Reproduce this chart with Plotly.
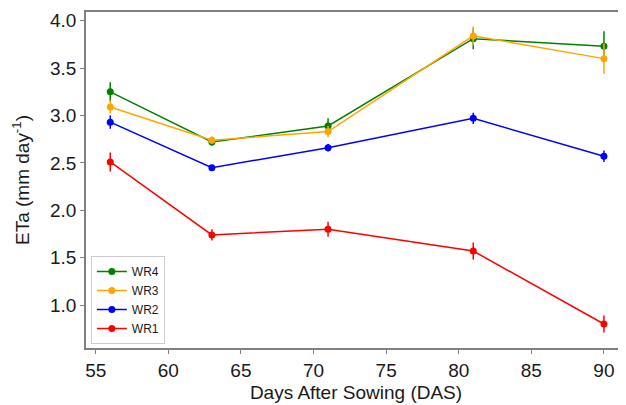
import plotly.graph_objects as go

das = [56, 63, 71, 81, 90]
series_names = ["WR4", "WR3", "WR2", "WR1"]
colors = ["green", "orange", "blue", "red"]
wr4 = [3.25, 2.72, 2.89, 3.81, 3.73]
wr4_err = [0.10, 0.04, 0.08, 0.11, 0.16]
wr3 = [3.09, 2.74, 2.83, 3.84, 3.60]
wr3_err = [0.07, 0.04, 0.06, 0.10, 0.16]
wr2 = [2.93, 2.45, 2.66, 2.97, 2.57]
wr2_err = [0.07, 0.03, 0.04, 0.06, 0.06]
wr1 = [2.51, 1.74, 1.80, 1.57, 0.80]
wr1_err = [0.10, 0.06, 0.08, 0.09, 0.09]
values = [wr4, wr3, wr2, wr1]
errors = [wr4_err, wr3_err, wr2_err, wr1_err]
x_ticks = [55, 60, 65, 70, 75, 80, 85, 90]
y_ticks = [1.0, 1.5, 2.0, 2.5, 3.0, 3.5, 4.0]

fig = go.Figure()
for name, c, v, e in zip(series_names, colors, values, errors):
    fig.add_trace(go.Scatter(
        x=das, y=v, name=name, mode="lines+markers",
        line=dict(color=c, width=1.5),
        marker=dict(color=c, size=7),
        error_y=dict(type="data", array=e, visible=True, color=c, thickness=1.5, width=0),
    ))

font = "Liberation Sans, Arial, sans-serif"
txt = "#1a1a1a"
fig.update_layout(
    width=618, height=397,
    margin=dict(l=78, r=0, t=4, b=57),
    plot_bgcolor="white", paper_bgcolor="white",
    font=dict(family=font, color=txt),
    showlegend=True,
    legend=dict(x=0.009, y=0.012, xanchor="left", yanchor="bottom",
                bgcolor="rgba(255,255,255,0.8)", bordercolor="#cccccc", borderwidth=1,
                font=dict(size=12, family=font, color=txt),
                tracegroupgap=0, itemwidth=30),
    xaxis=dict(range=[54.33, 91.52], tickvals=x_ticks, ticks="outside", ticklen=4,
               tickcolor="#808080", showline=True, linecolor="#808080", linewidth=1.5,
               mirror=True, showgrid=False, zeroline=False, automargin=False,
               tickfont=dict(size=19, family=font, color=txt),
               title=dict(text="Days After Sowing (DAS)", font=dict(size=19, family=font, color=txt), standoff=6)),
    yaxis=dict(range=[0.547, 4.092], tickvals=y_ticks, tickformat=".1f", ticks="outside", ticklen=4,
               tickcolor="#808080", showline=True, linecolor="#808080", linewidth=1.5,
               mirror=True, showgrid=False, zeroline=False, automargin=False,
               tickfont=dict(size=19, family=font, color=txt),
               title=dict(text="ETa (mm day<sup>-1</sup>)", font=dict(size=19, family=font, color=txt), standoff=15)),
)
fig.write_html("out.html")
